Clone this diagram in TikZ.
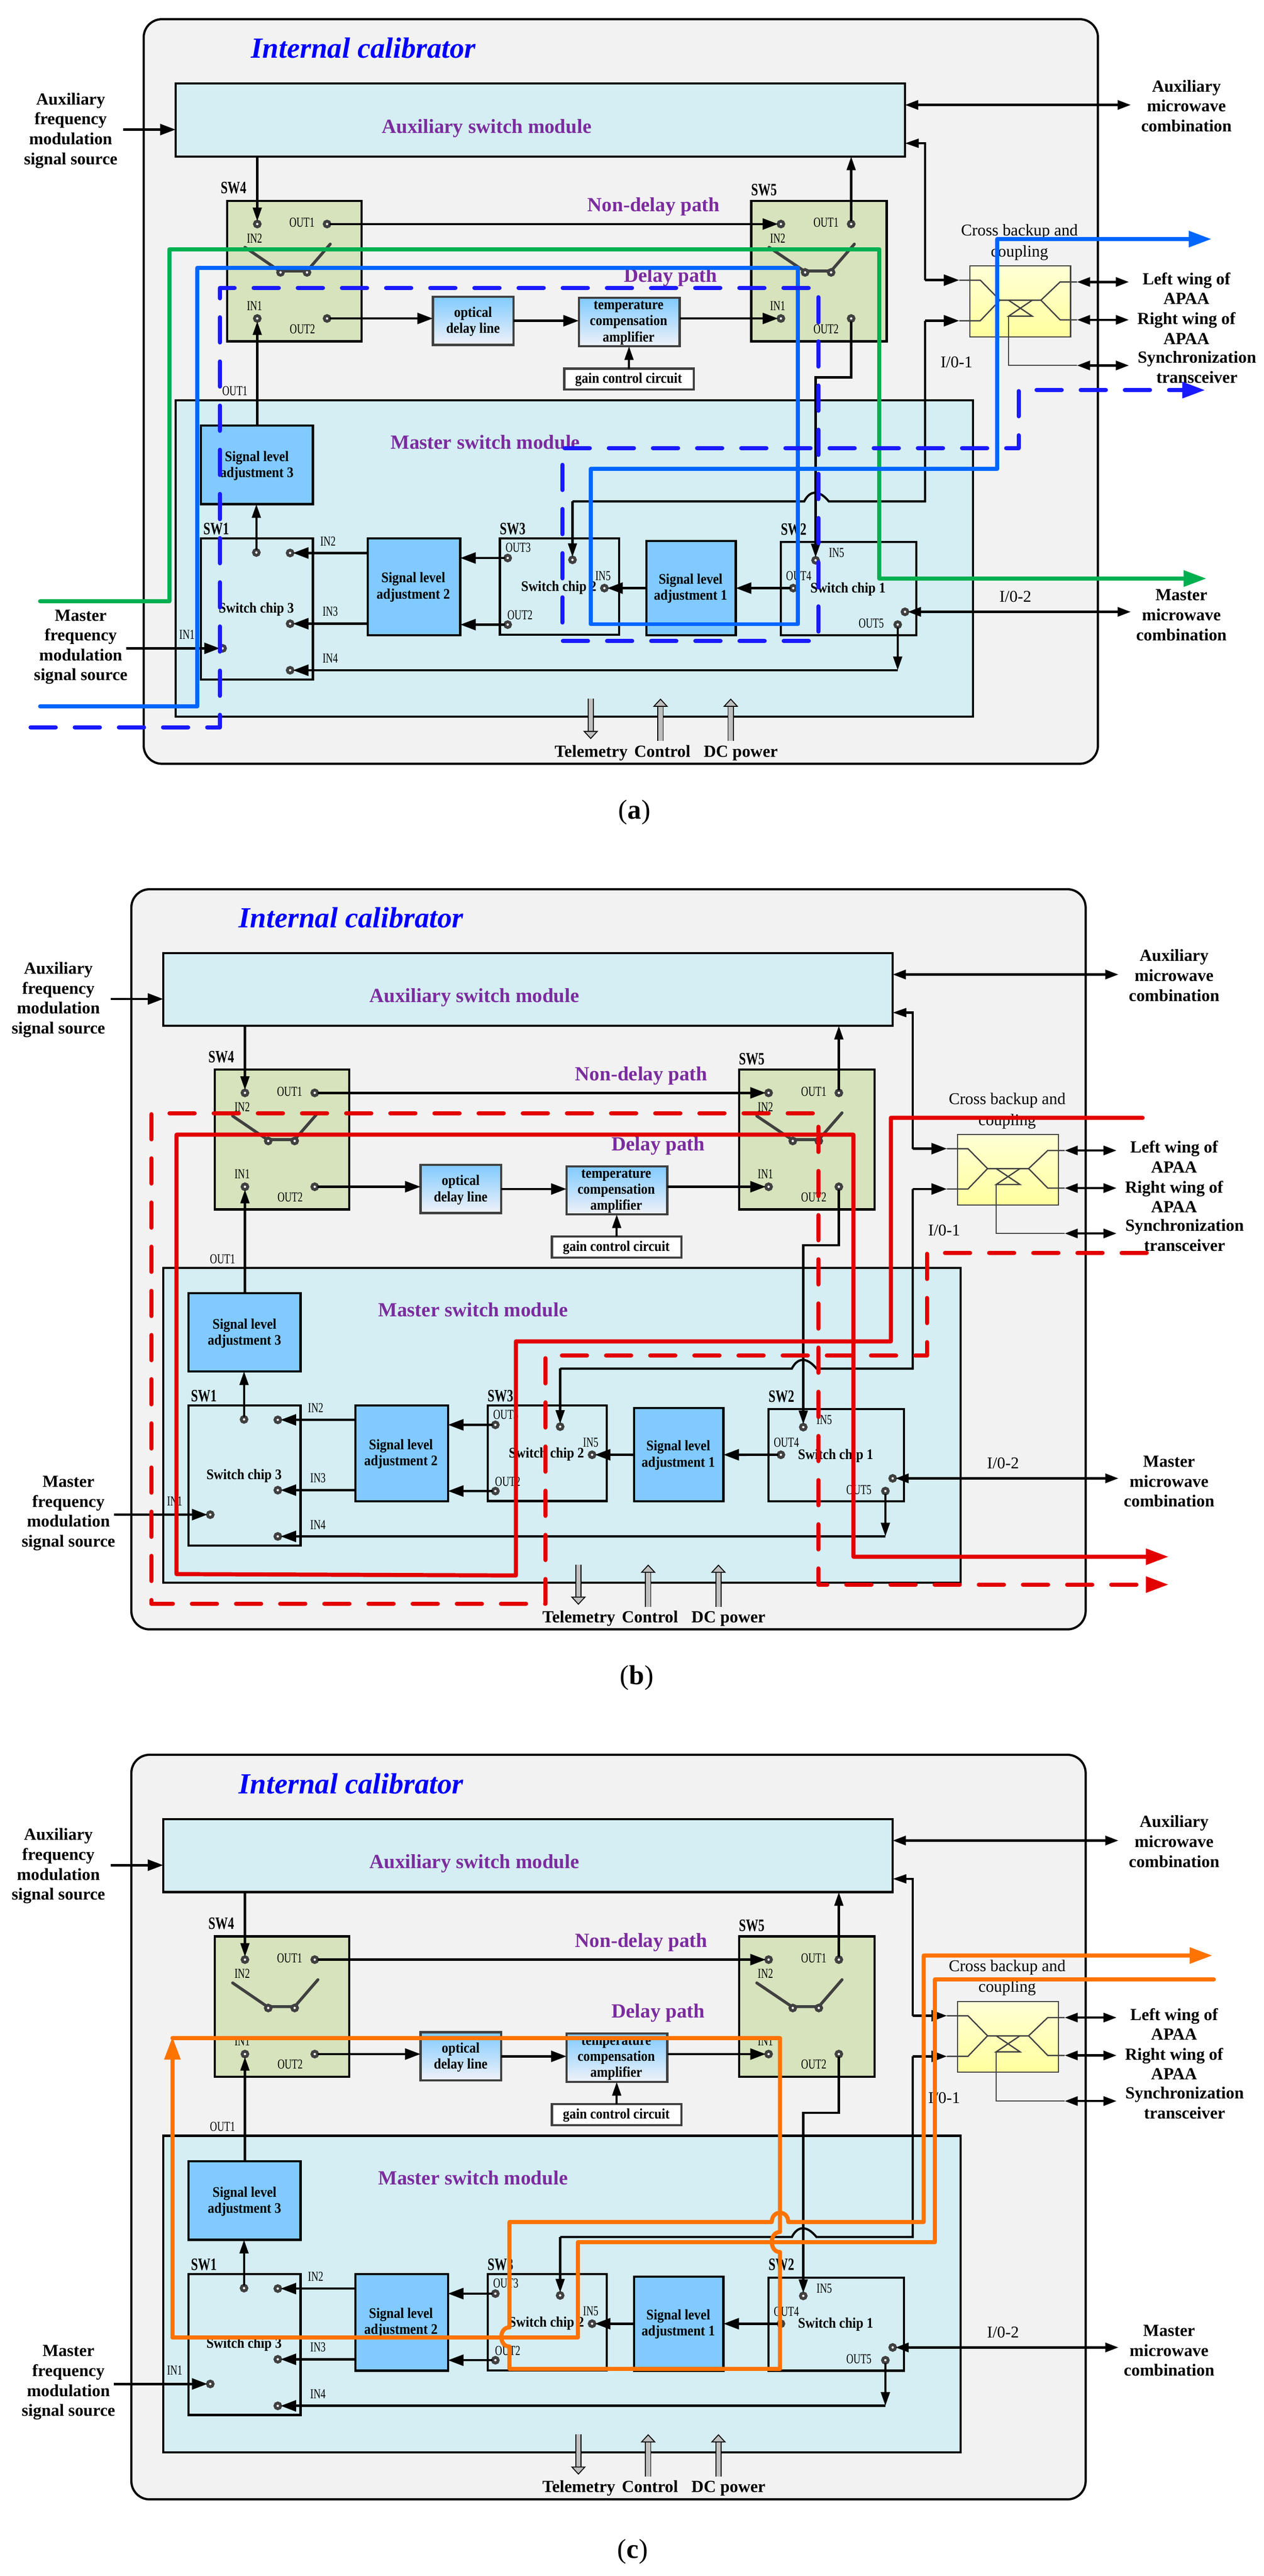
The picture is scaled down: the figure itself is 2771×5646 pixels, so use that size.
\documentclass[tikz,border=0pt]{standalone}
\usepackage{fontspec}
\setmainfont{Liberation Serif}
\newfontfamily\pinfam{Liberation Serif}[FakeStretch=0.72]
\newfontfamily\swfam{Liberation Serif}[FakeStretch=0.72]
\newfontfamily\boxfam{Liberation Serif}[FakeStretch=0.9]
\usetikzlibrary{arrows.meta,fit}
\definecolor{outerfill}{HTML}{F2F2F2}
\definecolor{modfill}{HTML}{D4EEF3}
\definecolor{swgreen}{HTML}{D6E3BC}
\definecolor{lvlblue}{HTML}{80CAFF}
\definecolor{pale}{HTML}{F0F2F8}
\definecolor{dk}{HTML}{404040}
\definecolor{purp}{HTML}{7B2C9E}
\definecolor{shaft}{HTML}{BFBFBF}
\definecolor{pgreen}{HTML}{00B050}
\definecolor{pblue}{HTML}{0066FF}
\definecolor{pdash}{HTML}{1A1AFF}
\definecolor{pred}{HTML}{E30000}
\definecolor{porange}{HTML}{FF7300}
\definecolor{coupt}{HTML}{FFFFD6}
\definecolor{coupb}{HTML}{FFFF9E}
\tikzset{
  bx/.style={rectangle,inner sep=0pt,outer sep=0pt,draw=black,line width=1.2pt},
  outerbox/.style={bx,fill=outerfill,rounded corners=10pt},
  module/.style={bx,fill=modfill},
  swbox/.style={bx,fill=swgreen},
  lvl/.style={bx,fill=lvlblue},
  chipbox/.style={bx,fill=modfill},
  grad/.style={bx,draw=dk,top color=lvlblue,bottom color=pale},
  gainb/.style={bx,draw=dk,fill=white},
  coupler/.style={bx,draw=dk,line width=.6pt,top color=coupt,bottom color=coupb},
  term/.style={circle,draw=dk,line width=1.6pt,fill=white,inner sep=0pt,outer sep=0pt,minimum size=3.1pt},
  lab/.style={inner sep=0pt,align=center,font=\fontsize{9.3}{10.9}\selectfont\bfseries},
  crossl/.style={inner sep=0pt,align=center,font=\fontsize{9}{11.4}\selectfont},
  iol/.style={inner sep=0pt,font=\fontsize{9}{11}\selectfont},
  pinlab/.style={inner sep=0pt,font=\pinfam\fontsize{7.5}{8}\selectfont},
  swname/.style={inner sep=0pt,font=\swfam\fontsize{9.5}{10}\selectfont\bfseries},
  inbox/.style={inner sep=0pt,align=center,font=\boxfam\fontsize{8}{8.8}\selectfont\bfseries},
  modlab/.style={inner sep=0pt,font=\fontsize{11}{12}\selectfont\bfseries,text=purp},
  titlelab/.style={inner sep=0pt,font=\fontsize{16}{18}\selectfont\bfseries\itshape,text=blue},
  capt/.style={inner sep=0pt,font=\fontsize{15}{17}\selectfont},
  plainc/.style={draw=black,line width=1.2pt},
  thinc/.style={plainc,-{Triangle[length=7.5pt,width=4.8pt]}},
  thickc/.style={plainc,line width=1.3pt,-{Triangle[length=8.5pt,width=6pt]}},
  bothc/.style={plainc,line width=1.3pt,{Triangle[length=7.2pt,width=5pt]}-{Triangle[length=7.2pt,width=5pt]}},
  arm/.style={draw=dk,line width=1.6pt,line cap=round},
  fine/.style={draw=dk,line width=.7pt},
  blockc/.style={draw=black,line width=.5pt,double=shaft,double distance=2.4pt,-{Triangle[length=4.5pt,width=8.2pt,fill=shaft,color=black,line width=.5pt]}},
  hlsolid/.style={line width=2.25pt,line cap=round,line join=round},
  hldash/.style={line width=2.25pt,line cap=round,line join=round,dash pattern=on 13.8pt off 10.4pt},
  hltip/.style={-{Triangle[length=12.5pt,width=8.5pt]}},
}
\newcommand{\bxn}[6]{\node[#1,fit={(#3,#4)(#5,#6)}] (#2) {};}
\newcommand{\tmn}[3]{\node[term] (#1) at (#2,#3) {};}
\newcommand{\panelbody}{%
  \bxn{outerbox}{outer}{315}{42}{2407}{1674}
  \bxn{module}{aux}{385}{183}{1984}{343}
  \bxn{module}{master}{385}{877}{2133}{1571}
  \bxn{swbox}{sw4}{498}{440}{793}{748}
  \bxn{swbox}{sw5}{1647}{440}{1944}{748}
  \bxn{grad}{opt}{949}{650}{1126}{756}
  \bxn{grad}{tmp}{1269}{653}{1490}{759}
  \bxn{gainb}{gain}{1237}{808}{1521}{854}
  \bxn{lvl}{lvl3}{440}{933}{686}{1105}
  \bxn{chipbox}{sw1}{440}{1180}{686}{1489}
  \bxn{lvl}{lvl2}{806}{1180}{1009}{1392}
  \bxn{chipbox}{sw3}{1096}{1180}{1357}{1391}
  \bxn{lvl}{lvl1}{1417}{1186}{1613}{1392}
  \bxn{chipbox}{sw2}{1712}{1188}{2009}{1392}
  \bxn{coupler}{coup}{2126}{583}{2347}{738}
  % coupler internals
  \draw[fine] (2103,614) -- (2149,614) -- (2192,658) -- (2282,658) -- (2324,618) -- (2361,618);
  \draw[fine] (2103,703) -- (2149,703) -- (2192,658);
  \draw[fine] (2282,658) -- (2324,701) -- (2361,701);
  \draw[fine] (2211,658) -- (2263,693) -- (2211,693) -- (2263,658);
  \coordinate (syncfoot) at (2211,693);
  \coordinate (syncbend) at (2211,801);
  \coordinate (syncl) at (2361,801);
  \coordinate (syncr) at (2475,801);
  \draw[fine,line width=.5pt] (syncfoot) -- (syncbend) -- (syncl);
  % terminals
  \tmn{a1}{564}{491}\tmn{a2}{717}{491}\tmn{a3}{564}{698}\tmn{a4}{717}{698}
  \tmn{b1}{1712}{491}\tmn{b2}{1866}{491}\tmn{b3}{1712}{698}\tmn{b4}{1866}{698}
  \tmn{s1t}{562}{1211}\tmn{s1a}{636}{1212}\tmn{s1b}{636}{1367}\tmn{s1c}{636}{1469}\tmn{s1d}{488}{1421}
  \tmn{s3a}{1113}{1223}\tmn{s3b}{1113}{1369}\tmn{s3c}{1255}{1227}\tmn{s3d}{1325}{1289}
  \tmn{s2a}{1788}{1228}\tmn{s2b}{1739}{1289}\tmn{s2c}{1984}{1341}\tmn{s2d}{1968}{1369}
  % switch arms
  \draw[arm] (537,542) -- (613,594) -- (673,594) -- (724,535);
  \draw[arm] (1686,542) -- (1763,594) -- (1822,594) -- (1873,535);
  \tmn{arm1}{615}{597}\tmn{arm2}{673}{597}\tmn{arm3}{1765}{597}\tmn{arm4}{1822}{597}
  % free ends
  \coordinate (auxinL) at (270,284);
  \coordinate (auxdr) at (2479,230);
  \coordinate (auxdl) at (1984,230);
  \coordinate (auxfb) at (1984,314);
  \coordinate (c1bend) at (2028,314);
  \coordinate (c1c) at (2028,614);
  \coordinate (c1) at (2103,614);
  \coordinate (c2c) at (2028,703);
  \coordinate (c2) at (2103,703);
  \coordinate (lwL) at (2361,618);\coordinate (lwR) at (2475,618);
  \coordinate (rwL) at (2361,701);\coordinate (rwR) at (2475,701);
  \coordinate (msL) at (277,1421);
  \coordinate (mmR) at (2479,1341);
  \coordinate (o2b1) at (1866,827);
  \coordinate (o2b2) at (1788,827);
  \coordinate (ioc) at (2028,1099);
  \coordinate (bumpa) at (1817,1099);
  \coordinate (bumpb) at (1763,1099);
  \coordinate (s3top) at (1255,1099);
  \coordinate (o5b) at (1968,1469);
  \coordinate (telt) at (1295,1531);\coordinate (telb) at (1295,1620);
  \coordinate (ctlt) at (1448,1531);\coordinate (ctlb) at (1448,1624);
  \coordinate (dct) at (1602,1531);\coordinate (dcb) at (1602,1624);
  % connectors
  \draw[thickc] (auxinL) -- (auxinL -| aux.west);
  \draw[bothc] (auxdl) -- (auxdr);
  \draw[thinc] (a1 |- aux.south) -- (a1);
  \draw[thinc] (b2) -- (b2 |- aux.south);
  \draw[thickc] (a2) -- (b1);
  \draw[thickc] (a4) -- (opt.west |- a4);
  \draw[thickc] (opt.east |- 0,703) -- (tmp.west |- 0,703);
  \draw[thickc] (tmp.east |- b3) -- (b3);
  \draw[thinc] (gain.north) -- (tmp.south -| gain.north);
  \draw[thinc] (a3 |- lvl3.north) -- (a3);
  \draw[thinc] (s1t) -- (s1t |- lvl3.south);
  \draw[thinc] (c1c) -- (c1bend) -- (auxfb);
  \draw[thickc] (c1c) -- (c1);
  \draw[thickc] (c2c) -- (c2);
  \draw[plainc] (c2c) -- (ioc) -- (bumpa) .. controls (1795,1072) and (1775,1075) .. (bumpb) -- (s3top);
  \draw[thinc] (s3top) -- (s3c);
  \draw[thinc] (b4) -- (o2b1) -- (o2b2) -- (s2a);
  \draw[bothc] (lwL) -- (lwR);
  \draw[bothc] (rwL) -- (rwR);
  \draw[bothc] (syncl) -- (syncr);
  \draw[thickc] (msL) -- (s1d);
  \draw[thickc] (lvl2.west |- s1a) -- (s1a);
  \draw[thickc] (lvl2.west |- s1b) -- (s1b);
  \draw[thickc] (s3a) -- (lvl2.east |- s3a);
  \draw[thickc] (s3b) -- (lvl2.east |- s3b);
  \draw[thickc] (lvl1.west |- s3d) -- (s3d);
  \draw[thickc] (s2b) -- (lvl1.east |- s2b);
  \draw[bothc] (s2c) -- (mmR);
  \draw[thinc] (s2d) -- (o5b);
  \draw[thickc] (o5b) -- (s1c);
  \draw[blockc] (telt) -- (telb);
  \draw[blockc] (ctlb) -- (ctlt);
  \draw[blockc] (dcb) -- (dct);
  % texts
  \node[titlelab] (t-title) at (797,105) {Internal calibrator};
  \node[modlab] (t-aux) at (1067,281) {Auxiliary switch module};
  \node[modlab] (t-master) at (1064,969) {Master switch module};
  \node[modlab] (t-nd) at (1433,453) {Non-delay path};
  \node[modlab] (t-d) at (1470,608) {Delay path};
  \node[lab] (t-ls) at (155,286) {Auxiliary\\frequency\\modulation\\signal source};
  \node[lab] (t-mc) at (2601,232) {Auxiliary\\microwave\\combination};
  \node[lab] (t-wings) at (2601,676) {Left wing of\\APAA\\Right wing of\\APAA};
  \node[lab] (t-sync) at (2624,805) {Synchronization\\transceiver};
  \node[lab] (t-mls) at (177,1418) {Master\\frequency\\modulation\\signal source};
  \node[lab] (t-mmc) at (2590,1348) {Master\\microwave\\combination};
  \node[crossl] (t-cb) at (2235,531) {Cross backup and\\coupling};
  \node[iol] (t-io1) at (2097,794) {I/0-1};
  \node[iol] (t-io2) at (2226,1308) {I/0-2};
  \node[lab,anchor=base] (t-tel) at (1296,1659) {Telemetry};
  \node[lab,anchor=base] (t-ctl) at (1452,1659) {Control};
  \node[lab,anchor=base] (t-dc) at (1624,1659) {DC power};
  \node[swname] (n4) at (512,412) {SW4};
  \node[swname] (n5) at (1675,416) {SW5};
  \node[swname] (n1) at (474,1159) {SW1};
  \node[swname] (n3) at (1124,1159) {SW3};
  \node[swname] (n2) at (1740,1160) {SW2};
  \node[pinlab] (p1) at (662,488) {OUT1};
  \node[pinlab] (p2) at (558,522) {IN2};
  \node[pinlab] (p3) at (558,670) {IN1};
  \node[pinlab] (p4) at (663,721) {OUT2};
  \node[pinlab] (p5) at (1811,488) {OUT1};
  \node[pinlab] (p6) at (1705,522) {IN2};
  \node[pinlab] (p7) at (1705,670) {IN1};
  \node[pinlab] (p8) at (1811,721) {OUT2};
  \node[pinlab] (p9) at (515,857) {OUT1};
  \node[pinlab] (p10) at (719,1186) {IN2};
  \node[pinlab] (p11) at (724,1340) {IN3};
  \node[pinlab] (p12) at (724,1443) {IN4};
  \node[pinlab] (p13) at (410,1391) {IN1};
  \node[pinlab] (p14) at (1136,1200) {OUT3};
  \node[pinlab] (p15) at (1140,1348) {OUT2};
  \node[pinlab] (p16) at (1322,1262) {IN5};
  \node[pinlab] (p17) at (1834,1212) {IN5};
  \node[pinlab] (p18) at (1751,1262) {OUT4};
  \node[pinlab] (p19) at (1910,1366) {OUT5};
  \node[inbox] (i1) at (1037,705) {optical\\delay line};
  \node[inbox] (i2) at (1378,708) {temperature\\compensation\\amplifier};
  \node[inbox] (i3) at (1378,832) {gain control circuit};
  \node[inbox] (i4) at (563,1021) {Signal level\\adjustment 3};
  \node[inbox] (i5) at (906,1287) {Signal level\\adjustment 2};
  \node[inbox] (i6) at (1514,1290) {Signal level\\adjustment 1};
  \node[inbox] (i7) at (562,1335) {Switch chip 3};
  \node[inbox] (i8) at (1225,1288) {Switch chip 2};
  \node[inbox] (i9) at (1859,1291) {Switch chip 1};
}
\begin{document}
\begin{tikzpicture}[x=.25pt,y=-.25pt]
\useasboundingbox (0,0) rectangle (2771,5646);
\begin{scope}[name prefix=pa-]\panelbody\end{scope}
\begin{scope}[name prefix=pb-,shift={(-27,1907.25)},yscale=.994]\panelbody\end{scope}
\begin{scope}[name prefix=pc-,shift={(-27,3804)}]\panelbody\end{scope}
% highlighted paths, panel a
\coordinate (ga) at (88,1318);\coordinate (gb) at (2645,1268);
\draw[hlsolid,hltip,pgreen] (ga) -- (371,1318) -- (371,546) -- (1928,546) -- (1928,1268) -- (gb);
\coordinate (ba) at (88,1548);\coordinate (bb) at (2656,524);
\draw[hlsolid,hltip,pblue] (ba) -- (433,1548) -- (433,587) -- (1749,587) -- (1749,1368) -- (1295,1368) -- (1295,1028) -- (2186,1028) -- (2186,524) -- (bb);
\coordinate (da) at (67,1594);\coordinate (db) at (2642,855);
\draw[hldash,hltip,pdash] (da) -- (482,1594) -- (482,631) -- (1794,631) -- (1794,1405) -- (1233,1405) -- (1233,982) -- (2233,982) -- (2233,855) -- (db);
% highlighted paths, panel b
\coordinate (ra) at (2505,2450);\coordinate (rb) at (2562,3412);
\draw[hlsolid,hltip,pred] (ra) -- (1953,2450) -- (1953,2940) -- (1131,2940) -- (1131,3453) -- (387,3450) -- (387,2487) -- (1871,2487) -- (1871,3412) -- (rb);
\coordinate (rda) at (2514,2746);\coordinate (rdb) at (2562,3473);
\draw[hldash,hltip,pred] (rda) -- (2032,2746) -- (2032,2971) -- (1196,2971) -- (1196,3515) -- (332,3515) -- (332,2440) -- (1794,2440) -- (1794,3473) -- (rdb);
% highlighted paths, panel c
\coordinate (oa) at (2661,4338);\coordinate (ob) at (378,4464);\coordinate (oc) at (2658,4286);
\draw[hlsolid,porange] (oa) -- (2050,4338) -- (2050,4914) -- (1267,4914) -- (1267,5123) -- (378,5123);
\draw[hlsolid,hltip,porange] (378,5123) -- (ob);
\draw[hlsolid,hltip,porange] (ob |- 0,4467) -- (1710,4467) -- (1710,4892) .. controls (1686,4892) and (1686,4936) .. (1710,4936) -- (1710,5192) -- (1117,5192) -- (1117,5143) .. controls (1093,5143) and (1093,5101) .. (1117,5101) -- (1117,4870) -- (1692,4870) .. controls (1692,4843) and (1728,4843) .. (1728,4870) -- (2025,4870) -- (2025,4286) -- (oc);
% captions
\node[capt] (ca) at (1391,1780) {(\textbf{a})};
\node[capt] (cb) at (1396,3677) {(\textbf{b})};
\node[capt] (cc) at (1387,5592) {(\textbf{c})};
\end{tikzpicture}
\end{document}
